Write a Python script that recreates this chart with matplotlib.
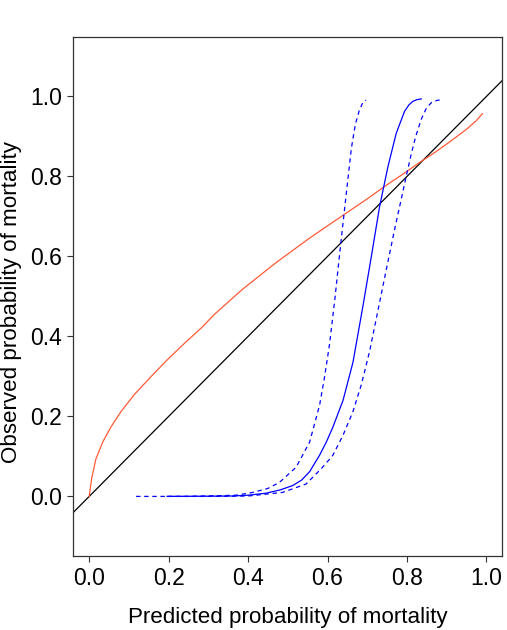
import matplotlib
matplotlib.use("Agg")
import matplotlib.pyplot as plt

plt.rcParams["font.family"] = ["Liberation Sans", "DejaVu Sans"]

# calibration curve (red)
red_x = [0.0, 0.006, 0.017, 0.034, 0.055, 0.080, 0.113, 0.156, 0.197, 0.239, 0.282,
         0.315, 0.386, 0.471, 0.555, 0.639, 0.700, 0.748, 0.790, 0.832, 0.870,
         0.907, 0.950, 0.975, 0.990]
red_y = [0.0, 0.044, 0.094, 0.136, 0.174, 0.212, 0.254, 0.300, 0.342, 0.382, 0.421,
         0.455, 0.518, 0.585, 0.646, 0.703, 0.744, 0.778, 0.806, 0.835, 0.860,
         0.886, 0.918, 0.940, 0.957]

# fitted curve (solid blue)
fit_x = [0.196, 0.300, 0.361, 0.400, 0.445, 0.480, 0.512, 0.535, 0.555, 0.580, 0.597,
         0.613, 0.639, 0.664, 0.689, 0.710, 0.731, 0.752, 0.773, 0.794, 0.805, 0.815,
         0.825, 0.836]
fit_y = [0.0, 0.0005, 0.001, 0.003, 0.008, 0.016, 0.027, 0.041, 0.062, 0.103, 0.136,
         0.172, 0.240, 0.335, 0.475, 0.598, 0.724, 0.824, 0.908, 0.963, 0.979, 0.988,
         0.992, 0.994]

# lower / upper bands (dashed blue)
lo_x = [0.118, 0.250, 0.370, 0.412, 0.450, 0.479, 0.521, 0.555, 0.580, 0.592, 0.605,
        0.618, 0.632, 0.647, 0.660, 0.670, 0.680, 0.689, 0.697]
lo_y = [0.0, 0.0, 0.003, 0.010, 0.020, 0.035, 0.073, 0.136, 0.228, 0.295, 0.380,
        0.489, 0.620, 0.755, 0.870, 0.930, 0.965, 0.985, 0.991]

hi_x = [0.196, 0.300, 0.400, 0.487, 0.546, 0.584, 0.613, 0.639, 0.664, 0.685, 0.706,
        0.727, 0.744, 0.760, 0.772, 0.786, 0.798, 0.811, 0.822, 0.836, 0.849, 0.862,
        0.875, 0.887]
hi_y = [0.0, 0.0, 0.001, 0.010, 0.031, 0.069, 0.102, 0.153, 0.212, 0.279, 0.363,
        0.465, 0.548, 0.625, 0.682, 0.745, 0.800, 0.857, 0.900, 0.943, 0.971, 0.985,
        0.990, 0.992]

xticks = [0.0, 0.2, 0.4, 0.6, 0.8, 1.0]
yticks = [0.0, 0.2, 0.4, 0.6, 0.8, 1.0]

fig = plt.figure(figsize=(5.07, 6.30), dpi=100)
ax = fig.add_axes([0.1446, 0.1181, 0.8461, 0.8227])

ax.axline((0, 0), slope=1, color="black", lw=0.9)
ax.plot(red_x, red_y, color="#ff5a36", lw=0.9)
ax.plot(fit_x, fit_y, color="blue", lw=0.9)
ax.plot(lo_x, lo_y, color="blue", lw=0.9, linestyle=(0, (3.5, 3)))
ax.plot(hi_x, hi_y, color="blue", lw=0.9, linestyle=(0, (3.5, 3)))

ax.set_xlim(-0.04, 1.04)
ax.set_ylim(-0.148, 1.148)
ax.set_xticks(xticks)
ax.set_yticks(yticks)
ax.set_xticklabels([f"{t:.1f}" for t in xticks])
ax.set_yticklabels([f"{t:.1f}" for t in yticks])
ax.tick_params(direction="out", length=4, width=0.8, labelsize=16.5, pad=4,
               color="#333333")
for s in ax.spines.values():
    s.set_linewidth(0.9)
    s.set_color("#333333")

ax.set_xlabel("Predicted probability of mortality", fontsize=16.1, va="center")
ax.xaxis.set_label_coords(0.5, -0.1185)
ax.set_ylabel("Observed probability of mortality", fontsize=16.1, va="center")
ax.yaxis.set_label_coords(-0.145, 0.49)

fig.savefig("out.png", dpi=100)
